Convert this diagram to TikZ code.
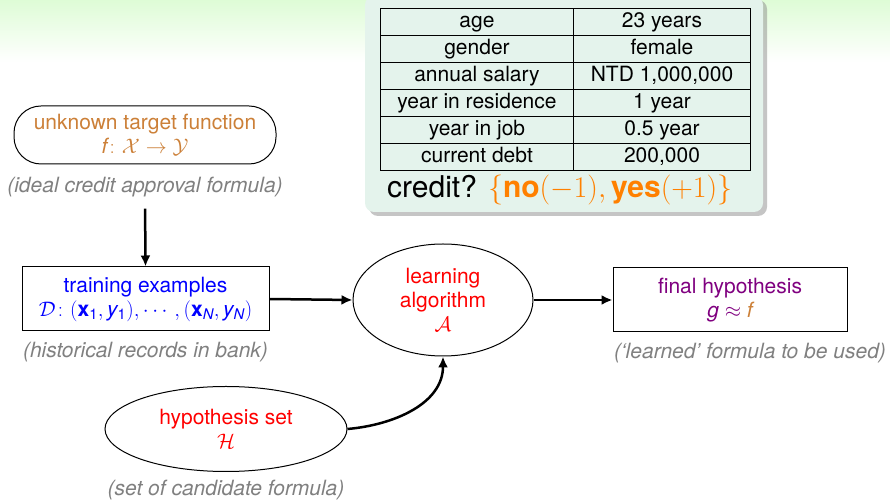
\RequirePackage{fix-cm}
\documentclass[tikz,border=0pt]{standalone}
\usepackage{amsmath}
\usepackage{fontspec}
\setmainfont{TeX Gyre Heros}
\usepackage{xcolor}
\usetikzlibrary{shapes.geometric, arrows.meta, positioning, matrix, shadows}

\definecolor{fbrown}{RGB}{204,128,56}
\definecolor{hpurple}{RGB}{128,0,128}
\definecolor{yorange}{RGB}{255,128,0}
\definecolor{panelbg}{RGB}{228,243,236}
\definecolor{headgreen}{RGB}{222,252,214}

\begin{document}
\begin{tikzpicture}[
    x=1pt, y=1pt,
    font={\fontsize{21}{24}\selectfont},
    box/.style={rectangle, draw, line width=1pt, minimum height=64pt, inner sep=2pt, align=center},
    pill/.style={rectangle, draw, line width=1pt, rounded corners=27pt, minimum width=262pt, minimum height=58pt, align=center},
    oval/.style={ellipse, draw, line width=1pt, inner sep=0pt, align=center},
    note/.style={text=gray, font={\fontsize{21}{24}\selectfont\itshape}, inner sep=0pt},
    arrow/.style={-{Latex[length=11pt, width=10pt]}, line width=2.5pt}
]
    \useasboundingbox (0,0) rectangle (890,502);
    \fill[white] (0,0) rectangle (890,502);
    \shade[top color=headgreen, bottom color=white] (0,440) rectangle (890,502);

    % Credit card application
    \path[fill=panelbg, rounded corners=9pt,
          drop shadow={shadow xshift=4pt, shadow yshift=-4pt, fill=black!45}]
        (365,290) rectangle (763,506);
    \matrix (applicant) [matrix of nodes, anchor=north west, inner sep=0pt, outer sep=0pt,
        column sep=-1pt, row sep=-1pt,
        nodes={draw, line width=1pt, minimum height=27pt, inner sep=0pt, text height=15pt, text depth=4.5pt},
        column 1/.style={nodes={minimum width=193pt}},
        column 2/.style={nodes={minimum width=177pt}}] at (380,494) {
        age & 23 years \\
        gender & female \\
        annual salary & NTD 1,000,000 \\
        year in residence & 1 year \\
        year in job & 0.5 year \\
        current debt & 200,000 \\
    };
    \node[anchor=west, inner sep=0pt, font={\fontsize{30}{34}\selectfont}] (credit) at (387,312)
        {credit? \textcolor{yorange}{$\{$\textbf{no}$(-1),$\,\textbf{yes}$(+1)\}$}};

    % Learning flow
    \node[pill, text=fbrown] (target) at (145,367)
        {unknown target function\\$\mathit{f}\colon \mathcal{X}\to\mathcal{Y}$};
    \node[note, below=12pt of target] (targetnote) {(ideal credit approval formula)};

    \node[box, text=blue, minimum width=247pt] (train) at (145.5,203)
        {training examples\\$\mathcal{D}\colon(\mathbf{x}_{\mathrm{1}},\mathit{y}_{\mathrm{1}}),\cdots,(\mathbf{x}_{\mathit{N}},\mathit{y}_{\mathit{N}})$};
    \node[note, below=10pt of train] (trainnote) {(historical records in bank)};

    \node[oval, text=red, minimum width=180pt, minimum height=112pt] (learn) at (443,202)
        {learning\\algorithm\\$\mathcal{A}$};

    \node[box, text=hpurple, minimum width=234pt] (final) at (730,202)
        {final hypothesis\\$\mathit{g}\approx\textcolor{fbrown}{\mathit{f}}$};
    \node[note, below=10pt of final, xshift=20pt] (finalnote) {(`learned' formula to be used)};

    \node[oval, text=red, minimum width=242pt, minimum height=85pt] (hyp) at (226,73)
        {hypothesis set\\$\mathcal{H}$};
    \node[note, below=8pt of hyp] (hypnote) {(set of candidate formula)};

    \draw[arrow, shorten <=12pt] (targetnote.south) -- (train.north);
    \draw[arrow] (train.east) -- (learn.west);
    \draw[arrow] (learn.east) -- (final.west);
    \draw[arrow] (hyp.east) to[out=5, in=-90] (learn.south);
\end{tikzpicture}
\end{document}
